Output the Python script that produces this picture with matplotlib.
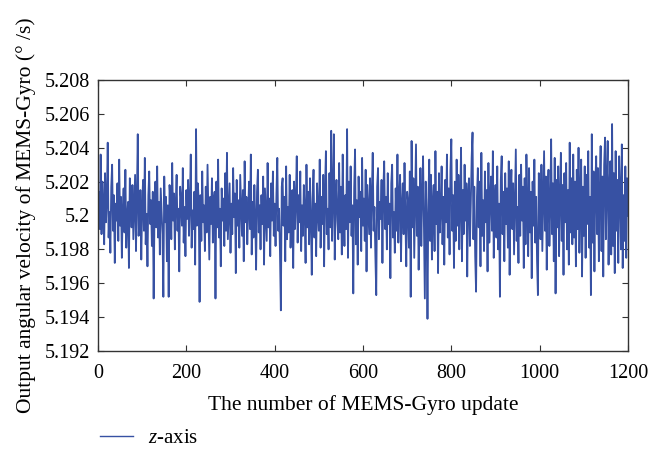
import numpy as np
import matplotlib
matplotlib.use("Agg")
import matplotlib.pyplot as plt
from matplotlib.ticker import FuncFormatter

# deviations from 5.2 (units of 1e-4 deg/s), read every 2nd update (0..1200)
dev = [
 3, 14, -8, 36, -11, 20, 6, -17, 25, -4, 9, 43, -13, 2, -22, 17, 30, -9, 12, -28,
 7, -3, 19, -15, 33, -6, 11, -25, 4, 16, -10, 27, -19, -1, 8, -31, 22, 13, -7, 18,
 -14, 5, 24, -21, 10, 48, -12, -2, 15, -26, 6, 21, -9, 34, -17, 1, -30, 12, 26, -5,
 9, -18, 14, -49, 3, 20, -7, 29, -13, 8, -23, 16, 2, -11, -48, 23, -4, 11, -27, 6,
 -48, 18, 9, -14, 31, -3, 13, -20, 7, 24, -9, 4, -33, 17, 10, -6, 28, -16, 5, -24,
 15, -2, 21, -12, 8, 36, -19, 3, -8, 14, -29, 51, -6, 19, 9, -51, 12, -15, 26, -4,
 6, -21, 17, -10, 30, 1, -26, 11, -5, 22, -16, 8, 14, -49, 20, -7, 33, -13, 4, -30,
 16, -3, 10, -18, 25, -9, 37, -14, 2, 19, -22, 7, -11, 28, -1, 13, -34, 21, -6, 9,
 -19, 24, 5, -12, 15, -27, 32, -4, 11, -17, 3, 20, -8, 36, -23, 8, -13, 18, -2, -32,
 14, 27, -10, 6, -20, 12, -5, 23, -29, 16, 1, -15, 31, -7, 10, -24, 19, -3, 26, -12,
 7, -18, 13, 34, -9, 4, -22, -56, 17, 22, -6, 11, -27, 29, -14, 5, -10, 24, -19, 2,
 15, -31, 20, -8, 9, 35, -16, 12, -4, 26, -21, 6, -12, 18, 3, -28, 30, -7, 14, -17,
 22, -2, -35, 10, 27, -13, 7, -24, 19, 1, -9, 33, -19, 11, -5, 24, -30, 15, 38, -11,
 4, -20, 25, -7, 50, -15, 13, 48, -26, 8, 21, -3, -14, 31, -10, 17, -23, 36, 2, -18,
 12, -8, 51, -25, 20, -4, 29, -12, 6, -46, 16, 39, -17, 9, -29, 23, -1, 14, -21, 34,
 -6, 10, -15, 27, -33, 18, 3, -11, 22, -19, 13, 37, -9, 5, -24, -47, 17, 28, -14, 8,
 -2, 21, -28, 15, 32, -8, 11, -20, 25, -5, 7, -37, 19, 30, -13, 2, -22, 16, -9, 36,
 -16, 12, 24, -27, 6, 19, -11, 31, -3, -30, 14, 8, -19, 26, -48, 44, -7, 22, -25, 10,
 42, -12, 17, -32, 5, 28, -18, 13, 35, -8, -49, 20, -2, -61, 9, 33, -15, 24, -26, 7,
 18, -21, 38, -5, 14, -34, 25, -10, 3, 29, -17, 11, -29, 21, -4, 36, -13, 16, -23, 27,
 45, -9, 12, -31, 20, -15, 33, -6, 24, -20, 8, 40, -27, 15, -11, 30, -3, 19, -36, 13,
 22, -18, 6, 34, 49, -14, 17, -24, -45, 11, 28, -7, 20, -30, 37, -12, 9, -21, 26, -4,
 15, -33, 31, -16, 10, 23, -9, 38, -25, 4, 18, -13, 29, -20, 7, -48, 21, 35, -11, 14,
 -27, 25, -5, 16, -19, 32, -35, 12, 27, -8, 19, -23, 10, 39, -15, 5, -28, 24, -12, 30,
 -3, 17, -31, 22, -17, 36, 9, -24, 28, -10, 14, -37, 20, -6, 33, -16, 11, -26, -47, 25,
 16, -14, 30, -21, 8, 38, -9, 23, -32, 13, 27, -18, 4, 45, -11, 19, -27, 34, -46, 21,
 -7, 29, -24, 12, 37, -15, 18, -35, 25, -4, 31, -20, 15, -29, 43, -10, 22, -17, 36, -13,
 20, -30, 27, -8, 40, -22, 13, 33, -36, 17, -12, 29, -25, 24, -5, 38, -19, 11, -47, 48,
 -16, 26, -33, 19, 35, -11, 28, -27, 14, 41, -21, 23, -36, 30, 46, -14, 20, 44, -29, 17,
 32, -23, 54, -18, 25, -34, 38, -9, 21, -28, 35, 15, -20, 42, -31, 12, -15, 29, -25, 22,
 0,
]
updates = np.arange(0, 1201, 2)
base = 5.2
unit = 1e-4
values = base + np.array(dev) * unit

xticks = [0, 200, 400, 600, 800, 1000, 1200]
yticks = [5.192, 5.194, 5.196, 5.198, 5.2, 5.202, 5.204, 5.206, 5.208]

plt.rcParams['font.family'] = ['Liberation Serif', 'DejaVu Serif']
plt.rcParams['mathtext.fontset'] = 'custom'
plt.rcParams['mathtext.it'] = 'Liberation Serif:italic'
plt.rcParams['mathtext.rm'] = 'Liberation Serif'

fig = plt.figure(figsize=(6.5, 4.51), dpi=100)
ax = fig.add_axes([98/650, 1-351/451, 530/650, 271/451])
ax.plot(updates, values, color='#3751A3', lw=1.3, label=r'$z$-axis')
ax.set_xlim(0, 1200)
ax.set_ylim(5.192, 5.208)
ax.set_xticks(xticks)
ax.set_yticks(yticks)
ax.yaxis.set_major_formatter(FuncFormatter(lambda v, p: '%g' % round(v, 3)))
ax.tick_params(direction='in', top=True, right=True, labelsize=14.5, length=4,
               color='#333333')
ax.tick_params(axis='x', pad=9)
ax.tick_params(axis='y', pad=6)
for s in ax.spines.values():
    s.set_color('#333333')
    s.set_linewidth(1.0)
ax.set_xlabel('The number of MEMS-Gyro update', fontsize=15.5, labelpad=9)
ax.set_ylabel('Output angular velocity of MEMS-Gyro (° /s)', fontsize=15.5, labelpad=6)
leg = fig.legend(loc='lower left', bbox_to_anchor=(0.125, -0.035), frameon=False, fontsize=15,
                 handlelength=1.6, handletextpad=0.7)
for h in leg.legend_handles:
    h.set_linewidth(1.0)
fig.savefig('out.png', dpi=100)
